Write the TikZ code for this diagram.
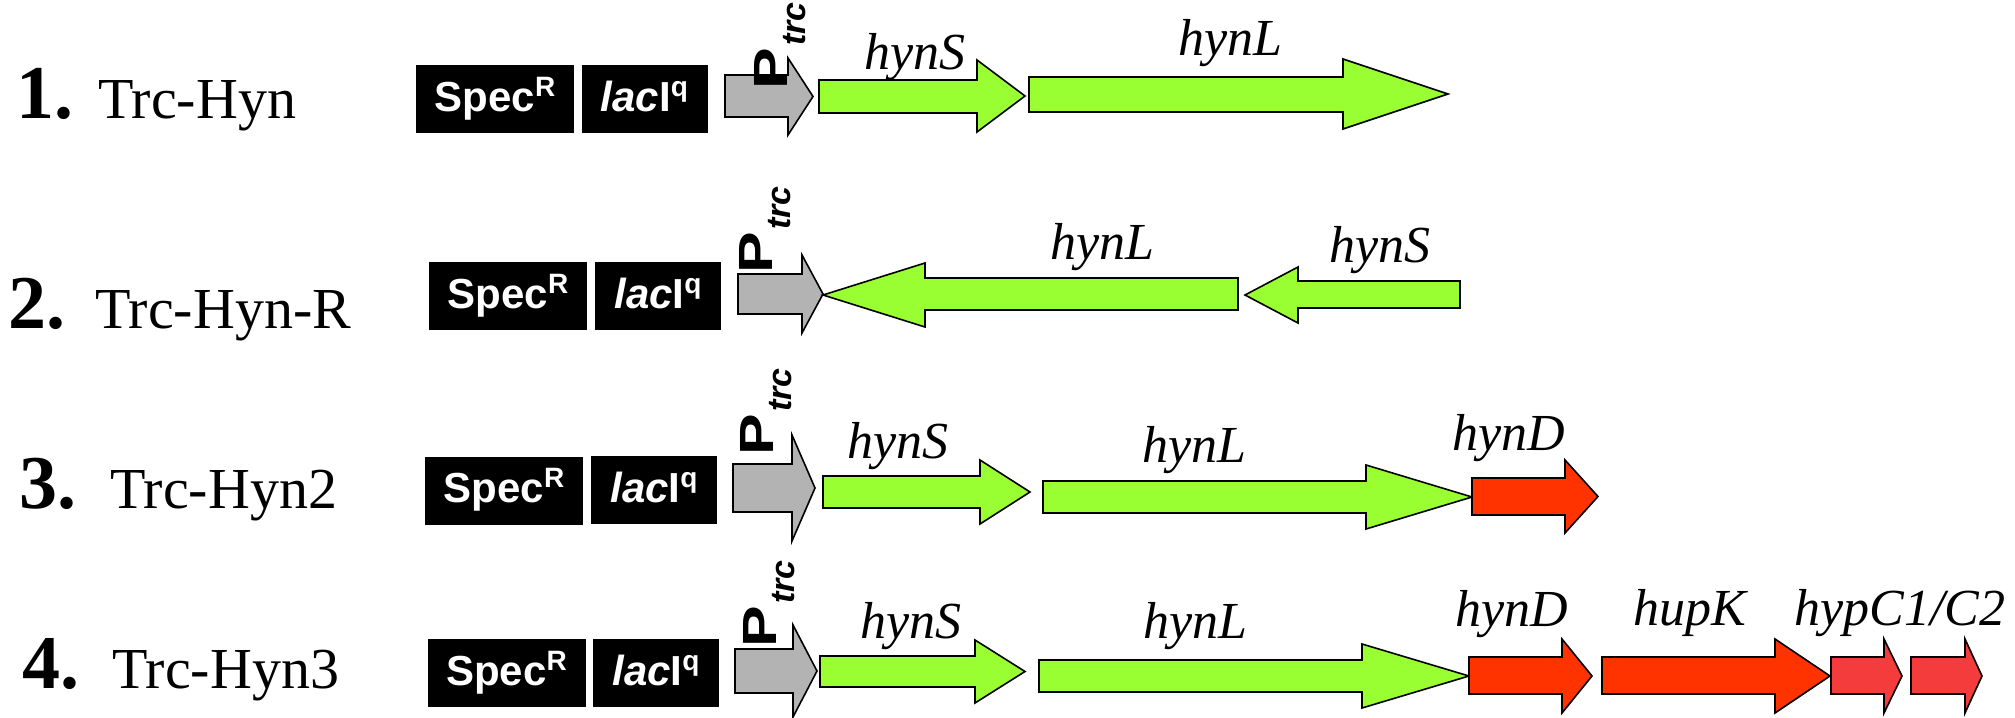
\documentclass[tikz,border=0pt]{standalone}
\usepackage{fontspec}
\setmainfont{Liberation Serif}
\newfontfamily\arialf{Liberation Sans}
\definecolor{genegreen}{HTML}{99FF33}
\definecolor{genered}{HTML}{FF3300}
\definecolor{genepink}{HTML}{F43C3C}
\definecolor{promgray}{HTML}{B3B3B3}
% #1 fill, #2 start x, #3 head base x, #4 tip x, #5 shaft top, #6 shaft bottom, #7 head top, #8 head bottom
\newcommand{\drawgene}[8]{\filldraw[fill=#1,draw=black,line width=0.8pt,line join=miter] (#2,#5) -- (#3,#5) -- (#3,#7) -- (#4,{(#7+#8)/2}) -- (#3,#8) -- (#3,#6) -- (#2,#6) -- cycle;}
\newcommand{\supsm}[1]{\raisebox{7.5pt}{\fontsize{14pt}{14pt}\selectfont #1}}
\newcommand{\ptrc}{\scalebox{1.3}[1]{P}\hspace{1pt}\raisebox{-9pt}{\fontsize{17pt}{17pt}\selectfont\itshape trc}}
\tikzset{
  markerbox/.style={fill=black, text=white, font=\arialf\bfseries\fontsize{21pt}{21pt}\selectfont, inner sep=0pt, minimum height=34pt, text height=15pt, text depth=3pt, anchor=center},
  specbox/.style={markerbox, minimum width=79pt},
  lacbox/.style={markerbox, minimum width=63pt},
  genelabel/.style={font=\itshape\fontsize{26pt}{26pt}\selectfont, inner sep=0pt, anchor=base},
  numlabel/.style={font=\bfseries\fontsize{38pt}{38pt}\selectfont, inner sep=0pt, anchor=base west},
  namelabel/.style={font=\fontsize{29pt}{29pt}\selectfont, inner sep=0pt, anchor=base west},
  plabel/.style={font=\arialf\bfseries\fontsize{24pt}{24pt}\selectfont, inner sep=0pt, rotate=90, anchor=base west}
}
\begin{document}
\begin{tikzpicture}[x=0.5pt,y=-0.5pt]
\useasboundingbox (0,0) rectangle (2015,718);

% ---------- Row 1 ----------
\node[numlabel] (n1) at (16,118) {1.};
\node[namelabel] (t1) at (98,118) {Trc-Hyn};
\node[specbox] (s1) at (495,99) {Spec\supsm{R}};
\node[lacbox] (l1) at (644.5,99) {\textit{lac}I\supsm{q}};
\drawgene{promgray}{725}{788}{813}{75}{117}{58}{135}
\drawgene{genegreen}{819}{977}{1025}{80}{113}{60}{132}
\drawgene{genegreen}{1029}{1343}{1448}{77}{112}{59}{129}
\node[plabel] (p1) at (787,90) {\ptrc};
\node[genelabel] (g1s) at (915,69) {hynS};
\node[genelabel] (g1l) at (1230,55) {hynL};

% ---------- Row 2 ----------
\node[numlabel] (n2) at (8,328) {2.};
\node[namelabel] (t2) at (95,328) {Trc-Hyn-R};
\node[specbox] (s2) at (508,296) {Spec\supsm{R}};
\node[lacbox] (l2) at (658,296) {\textit{lac}I\supsm{q}};
\drawgene{promgray}{738}{802}{823}{274}{314}{255}{333}
\drawgene{genegreen}{1238}{925}{823}{278}{310}{263}{327}
\drawgene{genegreen}{1460}{1298}{1245}{281}{308}{267}{323}
\node[plabel] (p2) at (772,274) {\ptrc};
\node[genelabel] (g2l) at (1102,259) {hynL};
\node[genelabel] (g2s) at (1380,262) {hynS};

% ---------- Row 3 ----------
\node[numlabel] (n3) at (19,508) {3.};
\node[namelabel] (t3) at (110,508) {Trc-Hyn2};
\node[specbox] (s3) at (504,490.5) {Spec\supsm{R}};
\node[lacbox] (l3) at (654,490) {\textit{lac}I\supsm{q}};
\drawgene{promgray}{733}{792}{815}{464}{512}{435}{541}
\drawgene{genegreen}{823}{980}{1030}{476}{508}{460}{524}
\drawgene{genegreen}{1043}{1366}{1472}{481}{513}{465}{529}
\drawgene{genered}{1472}{1565}{1598}{478}{515}{460}{533}
\node[plabel] (p3) at (773,456) {\ptrc};
\node[genelabel] (g3s) at (898,458) {hynS};
\node[genelabel] (g3l) at (1194,462) {hynL};
\node[genelabel] (g3d) at (1509,450) {hynD};

% ---------- Row 4 ----------
\node[numlabel] (n4) at (22,688) {4.};
\node[namelabel] (t4) at (112,688) {Trc-Hyn3};
\node[specbox] (s4) at (506.5,673) {Spec\supsm{R}};
\node[lacbox] (l4) at (656,673) {\textit{lac}I\supsm{q}};
\drawgene{promgray}{735}{793}{817}{649}{693}{625}{717}
\drawgene{genegreen}{820}{975}{1025}{656}{687}{640}{703}
\drawgene{genegreen}{1039}{1362}{1469}{660}{692}{644}{708}
\drawgene{genered}{1469}{1562}{1592}{657}{694}{639}{713}
\drawgene{genered}{1602}{1775}{1830}{657}{694}{639}{713}
\drawgene{genepink}{1831}{1884}{1902}{657}{694}{639}{713}
\drawgene{genepink}{1911}{1965}{1982}{657}{694}{639}{713}
\node[plabel] (p4) at (776,648) {\ptrc};
\node[genelabel] (g4s) at (911,638) {hynS};
\node[genelabel] (g4l) at (1195,638) {hynL};
\node[genelabel] (g4d) at (1512,626) {hynD};
\node[genelabel] (g4k) at (1690,625) {hupK};
\node[genelabel, anchor=base west] (g4c) at (1794,625) {hypC1/C2};
\end{tikzpicture}
\end{document}
